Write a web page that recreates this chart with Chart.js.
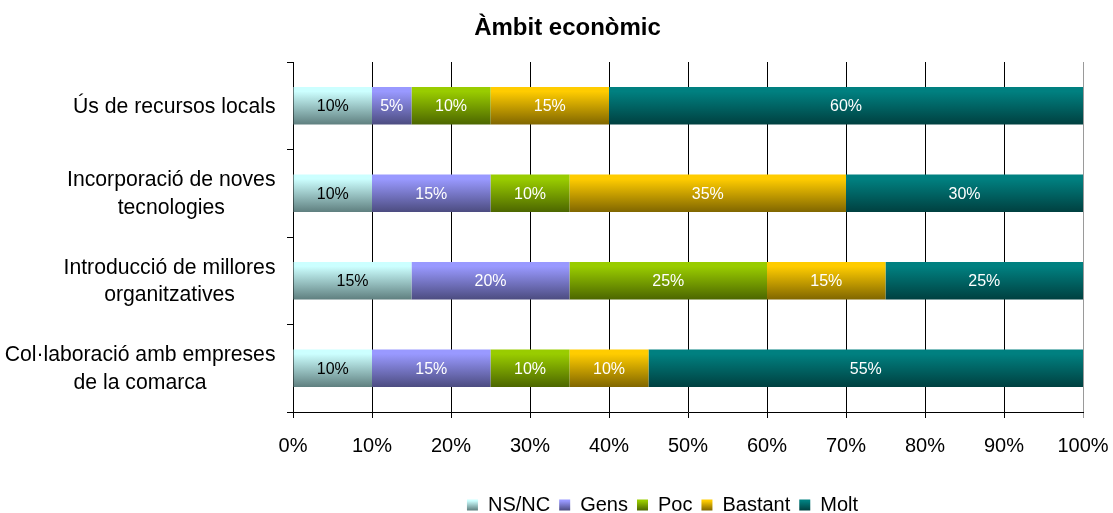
<!DOCTYPE html>
<html>
<head>
<meta charset="utf-8">
<script src="https://cdn.jsdelivr.net/npm/chart.js@4"></script>
<style>
  html, body { margin: 0; padding: 0; background: #ffffff; }
  #c { display: block; }
</style>
</head>
<body>
<canvas id="c" width="1113" height="513"></canvas>
<script>
// Categories (one array of lines per row, top to bottom)
const categories = [
  ["Ús de recursos locals"],
  ["Incorporació de noves", "tecnologies"],
  ["Introducció de millores", "organitzatives"],
  ["Col·laboració amb empreses", "de la comarca"]
];

// Series names and their shares (%)
const seriesNames = ["NS/NC", "Gens", "Poc", "Bastant", "Molt"];
const nsnc    = [10, 10, 15, 10];
const gens    = [5, 15, 20, 15];
const poc     = [10, 10, 25, 10];
const bastant = [15, 35, 15, 10];
const molt    = [60, 30, 25, 55];

// Percentage axis ticks
const xTickValues = [0, 10, 20, 30, 40, 50, 60, 70, 80, 90, 100];

// Light (top) and dark (bottom) shade for every series
const topColors    = ["#CCFFFF", "#9999FF", "#99CC00", "#FFCC00", "#008080"];
const bottomColors = ["#5F7F7F", "#4C4C80", "#4C6600", "#806600", "#004040"];
const labelColors  = ["#000000", "#ffffff", "#ffffff", "#ffffff", "#ffffff"];

const BAR_FRACTION = 0.43;
const FONT = "'Liberation Sans', Arial, sans-serif";
const LEGEND_PAD = 9;
const LEGEND_FONT = 20;

function shade(ctx2d, y0, y1, i) {
  const g = ctx2d.createLinearGradient(0, y0, 0, y1);
  g.addColorStop(0, topColors[i]);
  g.addColorStop(0.12, topColors[i]);
  g.addColorStop(1, bottomColors[i]);
  return g;
}

function barFill(context) {
  const chart = context.chart;
  const i = context.datasetIndex;
  const yScale = chart.scales.y;
  if (!chart.chartArea || !yScale || context.dataIndex === undefined) return topColors[i];
  const center = yScale.getPixelForValue(context.dataIndex);
  const half = (yScale.height / categories.length) * BAR_FRACTION / 2;
  return shade(chart.ctx, center - half, center + half, i);
}

const seriesValues = [nsnc, gens, poc, bastant, molt];
const datasets = seriesNames.map((name, i) => ({
  label: name,
  data: seriesValues[i],
  backgroundColor: barFill,
  borderWidth: 0,
  barPercentage: BAR_FRACTION,
  categoryPercentage: 1
}));

// Value labels centred in each segment
const segmentLabels = {
  id: 'segmentLabels',
  afterDatasetsDraw(chart) {
    const ctx = chart.ctx;
    ctx.save();
    ctx.font = "16px " + FONT;
    ctx.textAlign = 'center';
    ctx.textBaseline = 'middle';
    chart.data.datasets.forEach((ds, i) => {
      const meta = chart.getDatasetMeta(i);
      ctx.fillStyle = labelColors[i];
      meta.data.forEach((bar, j) => {
        const v = ds.data[j];
        if (!v) return;
        ctx.fillText(v + '%', (bar.x + bar.base) / 2, bar.y + 1);
      });
    });
    ctx.restore();
  }
};

// Category labels: right-aligned block, lines centred within it
const categoryLabels = {
  id: 'categoryLabels',
  afterDraw(chart) {
    const ctx = chart.ctx;
    const yScale = chart.scales.y;
    const rightEdge = 275.5;
    const lineH = 27.5;
    ctx.save();
    ctx.font = "21.2px " + FONT;
    ctx.fillStyle = '#000';
    ctx.textAlign = 'center';
    ctx.textBaseline = 'middle';
    categories.forEach((lines, i) => {
      const w = Math.max(...lines.map(l => ctx.measureText(l).width));
      const cx = rightEdge - w / 2;
      const cy = yScale.getPixelForValue(i) + 1;
      const start = cy - (lines.length - 1) * lineH / 2;
      lines.forEach((l, k) => ctx.fillText(l, cx, start + k * lineH));
    });
    ctx.restore();
  }
};

// Placement of title and legend boxes
const boxOffsets = {
  id: 'boxOffsets',
  afterLayout(chart) {
    const t = chart.titleBlock;
    if (t) { t.left += 26; t.right += 26; }
    const lg = chart.legend;
    if (lg) {
      lg.left += 121; lg.right += 121;
      lg.top += 12; lg.bottom += 12;
    }
  }
};

const chart = new Chart(document.getElementById('c'), {
  type: 'bar',
  data: { labels: categories.map(l => l.join(' ')), datasets },
  options: {
    indexAxis: 'y',
    responsive: false,
    animation: false,
    devicePixelRatio: 1,
    layout: { padding: { left: 0, right: 30, top: 0, bottom: 0 } },
    scales: {
      x: {
        stacked: true,
        min: 0,
        max: 100,
        afterBuildTicks(scale) { scale.ticks = xTickValues.map(v => ({ value: v })); },
        afterFit(scale) { scale.paddingLeft = 0; scale.paddingRight = 0; },
        ticks: {
          padding: 16,
          color: '#000',
          font: { family: FONT, size: 20 },
          callback: v => v + '%'
        },
        grid: {
          color: ctx => (ctx.tick && ctx.tick.value === 100) ? '#9a9a9a' : '#000',
          lineWidth: 1,
          tickLength: 6,
          drawTicks: true
        },
        border: { display: true, color: '#000', width: 1 }
      },
      y: {
        stacked: true,
        afterFit(scale) { scale.width = 293; },
        ticks: { display: false },
        grid: {
          offset: true,
          drawOnChartArea: false,
          drawTicks: true,
          tickLength: 6,
          color: '#000'
        },
        border: { display: true, color: '#000', width: 1 }
      }
    },
    plugins: {
      title: {
        display: true,
        text: 'Àmbit econòmic',
        color: '#000',
        font: { family: FONT, size: 24, weight: 'bold' },
        padding: { top: 13.6, bottom: 19.6 }
      },
      legend: {
        position: 'bottom',
        labels: {
          boxWidth: 11,
          boxHeight: 11,
          padding: LEGEND_PAD,
          color: '#000',
          font: { family: FONT, size: LEGEND_FONT },
          generateLabels(ch) {
            const lg = ch.legend;
            const top = (lg && isFinite(lg.top)) ? lg.top : 0;
            const y0 = top + LEGEND_PAD + (LEGEND_FONT - 11) / 2;
            return seriesNames.map((name, i) => ({
              text: name,
              fillStyle: shade(ch.ctx, y0, y0 + 11, i),
              strokeStyle: 'rgba(0,0,0,0)',
              lineWidth: 0,
              hidden: false,
              datasetIndex: i,
              fontColor: '#000'
            }));
          }
        }
      },
      tooltip: { enabled: false }
    }
  },
  plugins: [segmentLabels, categoryLabels, boxOffsets]
});
</script>
</body>
</html>
